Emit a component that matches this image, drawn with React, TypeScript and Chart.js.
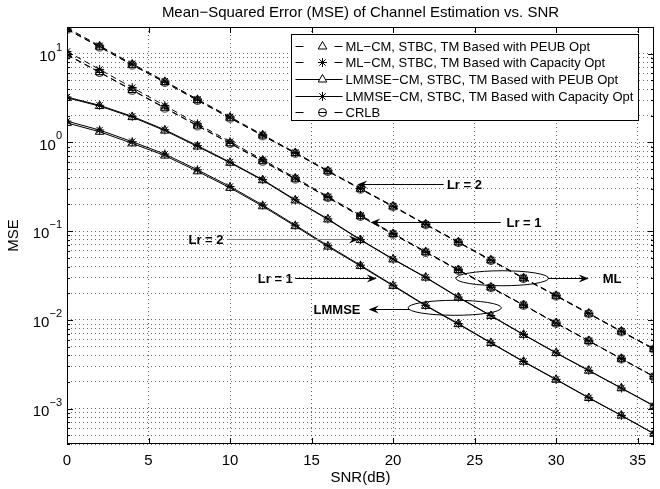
import React, { useEffect, useRef } from 'react';
import { Chart, registerables } from 'chart.js';

Chart.register(...registerables);

// ---------------- data ----------------
const SNR_DB = [0, 2, 4, 6, 8, 10, 12, 14, 16, 18, 20, 22, 24, 26, 28, 30, 32, 34, 36];

// Lr = 2
const ML_PEUB_LR2 = [19.0, 12.0, 7.5, 4.8, 3.0, 1.9, 1.2, 0.76, 0.475, 0.30, 0.19, 0.119, 0.075, 0.047, 0.0295, 0.0187, 0.0118, 0.0074, 0.0047];
const ML_CAP_LR2 = [19.6, 12.3, 7.7, 4.9, 3.07, 1.94, 1.22, 0.77, 0.48, 0.303, 0.192, 0.12, 0.0757, 0.0475, 0.0298, 0.0189, 0.0119, 0.00747, 0.00474];
const CRLB_LR2 = [18.8, 11.9, 7.45, 4.75, 2.98, 1.88, 1.19, 0.755, 0.472, 0.298, 0.189, 0.1185, 0.0747, 0.0468, 0.0294, 0.0186, 0.01175, 0.00737, 0.00468];
const LMMSE_PEUB_LR2 = [3.19, 2.57, 1.93, 1.36, 0.9, 0.59, 0.375, 0.222, 0.1356, 0.0794, 0.0481, 0.03, 0.0179, 0.0111, 0.0068, 0.00423, 0.00268, 0.0017, 0.00107];
const LMMSE_CAP_LR2 = [3.25, 2.62, 1.97, 1.39, 0.92, 0.6, 0.381, 0.226, 0.1375, 0.0803, 0.0486, 0.0303, 0.0181, 0.0112, 0.00686, 0.00426, 0.0027, 0.00171, 0.00108];

// Lr = 1
const ML_PEUB_LR1 = [9.8, 6.2, 3.9, 2.46, 1.55, 0.98, 0.62, 0.39, 0.24, 0.148, 0.093, 0.058, 0.0365, 0.0232, 0.0147, 0.0092, 0.0058, 0.00365, 0.0023];
const ML_CAP_LR1 = [10.6, 6.65, 4.15, 2.6, 1.62, 1.02, 0.64, 0.4, 0.245, 0.151, 0.0945, 0.0588, 0.0369, 0.0234, 0.0148, 0.00925, 0.00582, 0.00366, 0.00231];
const CRLB_LR1 = [9.7, 6.15, 3.87, 2.44, 1.54, 0.975, 0.615, 0.387, 0.239, 0.147, 0.0925, 0.0578, 0.0363, 0.0231, 0.01465, 0.00918, 0.00579, 0.00364, 0.00229];
const LMMSE_PEUB_LR1 = [1.66, 1.32, 0.977, 0.711, 0.473, 0.308, 0.191, 0.114, 0.067, 0.0405, 0.0242, 0.0144, 0.00897, 0.00549, 0.00338, 0.00212, 0.00132, 0.000836, 0.000521];
const LMMSE_CAP_LR1 = [1.74, 1.38, 1.02, 0.74, 0.492, 0.319, 0.197, 0.117, 0.0687, 0.0414, 0.0246, 0.0146, 0.0091, 0.00555, 0.00341, 0.00214, 0.00133, 0.00084, 0.000523];

const X_TICKS = [0, 5, 10, 15, 20, 25, 30, 35];
const Y_DECADES = [10, 1, 0.1, 0.01, 0.001];
const Y_DECADE_EXPONENTS = ['1', '0', '−1', '−2', '−3'];

const TITLE = 'Mean−Squared Error (MSE) of Channel Estimation vs. SNR';
const X_TITLE = 'SNR(dB)';
const Y_TITLE = 'MSE';

const LEGEND_LABELS = [
  'ML−CM, STBC, TM Based with PEUB Opt',
  'ML−CM, STBC, TM Based with Capacity Opt',
  'LMMSE−CM, STBC, TM Based with PEUB Opt',
  'LMMSE−CM, STBC, TM Based with Capacity Opt',
  'CRLB',
];
const LEGEND_MARKERS = ['triangle', 'star', 'triangle', 'star', 'theta'];
const LEGEND_DASHED = [true, true, false, false, true];

// annotations (data coordinates)
const ARROW_LABELS = ['Lr = 2', 'Lr = 1', 'Lr = 2', 'Lr = 1', 'LMMSE', 'ML'];
const ARROW_FROM_SNR = [23.1, 26.6, 9.8, 14.0, 21.0, 29.5];
const ARROW_TO_SNR = [17.8, 18.6, 17.9, 19.0, 18.5, 32.0];
const ARROW_MSE = [0.336, 0.127, 0.081, 0.0295, 0.0132, 0.0295];
const LABEL_SNR = [23.3, 26.95, 9.6, 13.85, 18.0, 32.85];
const ELLIPSE_SNR = [23.78, 26.69];
const ELLIPSE_MSE = [0.0137, 0.0295];
const ELLIPSE_HALF_WIDTH_SNR = [2.86, 2.84];

const FONT = '"Liberation Sans", Arial, Helvetica, sans-serif';

function makeThetaMarker(): HTMLCanvasElement {
  const c = document.createElement('canvas');
  c.width = 11;
  c.height = 11;
  const g = c.getContext('2d')!;
  g.strokeStyle = '#000';
  g.lineWidth = 1;
  g.beginPath();
  g.arc(5.5, 5.5, 4, 0, Math.PI * 2);
  g.stroke();
  g.beginPath();
  g.moveTo(1.5, 5.5);
  g.lineTo(9.5, 5.5);
  g.stroke();
  return c;
}

function drawMarker(ctx: CanvasRenderingContext2D, kind: string, x: number, y: number, theta: HTMLCanvasElement) {
  ctx.save();
  ctx.strokeStyle = '#000';
  ctx.lineWidth = 1;
  ctx.setLineDash([]);
  if (kind === 'triangle') {
    const r = 5;
    ctx.beginPath();
    ctx.moveTo(x, y - r);
    ctx.lineTo(x + r * Math.sin((2 * Math.PI) / 3), y - r * Math.cos((2 * Math.PI) / 3));
    ctx.lineTo(x - r * Math.sin((2 * Math.PI) / 3), y - r * Math.cos((2 * Math.PI) / 3));
    ctx.closePath();
    ctx.fillStyle = '#fff';
    ctx.fill();
    ctx.stroke();
  } else if (kind === 'star') {
    const r = 4.5;
    const d = r * Math.SQRT1_2;
    ctx.beginPath();
    ctx.moveTo(x - r, y); ctx.lineTo(x + r, y);
    ctx.moveTo(x, y - r); ctx.lineTo(x, y + r);
    ctx.moveTo(x - d, y - d); ctx.lineTo(x + d, y + d);
    ctx.moveTo(x - d, y + d); ctx.lineTo(x + d, y - d);
    ctx.stroke();
  } else {
    ctx.drawImage(theta, x - theta.width / 2, y - theta.height / 2);
  }
  ctx.restore();
}

function drawArrowHead(ctx: CanvasRenderingContext2D, tx: number, ty: number, dir: number) {
  const L = 10;
  const W = 4;
  ctx.beginPath();
  ctx.moveTo(tx, ty);
  ctx.lineTo(tx - dir * L, ty - W);
  ctx.lineTo(tx - dir * L * 0.65, ty);
  ctx.lineTo(tx - dir * L, ty + W);
  ctx.closePath();
  ctx.fillStyle = '#000';
  ctx.fill();
}

export default function App() {
  const ref = useRef<HTMLCanvasElement>(null);

  useEffect(() => {
    const canvas = ref.current;
    if (!canvas) return;
    const theta = makeThetaMarker();

    const mk = (label: string, values: number[], marker: string, dashed: boolean) => ({
      label,
      data: SNR_DB.map((x, i) => ({ x, y: values[i] })),
      borderColor: '#000',
      borderWidth: 1,
      borderDash: dashed ? [6, 4] : [],
      pointStyle: marker === 'theta' ? theta : marker,
      pointRadius: marker === 'triangle' ? 5 : 4.5,
      pointBorderColor: '#000',
      pointBackgroundColor: 'rgba(0,0,0,0)',
      pointBorderWidth: 1,
      fill: false,
      tension: 0,
    });

    const datasets = [
      mk(LEGEND_LABELS[0] + ' (Lr=2)', ML_PEUB_LR2, 'triangle', true),
      mk(LEGEND_LABELS[1] + ' (Lr=2)', ML_CAP_LR2, 'star', true),
      mk(LEGEND_LABELS[2] + ' (Lr=2)', LMMSE_PEUB_LR2, 'triangle', false),
      mk(LEGEND_LABELS[3] + ' (Lr=2)', LMMSE_CAP_LR2, 'star', false),
      mk(LEGEND_LABELS[4] + ' (Lr=2)', CRLB_LR2, 'theta', true),
      mk(LEGEND_LABELS[0] + ' (Lr=1)', ML_PEUB_LR1, 'triangle', true),
      mk(LEGEND_LABELS[1] + ' (Lr=1)', ML_CAP_LR1, 'star', true),
      mk(LEGEND_LABELS[2] + ' (Lr=1)', LMMSE_PEUB_LR1, 'triangle', false),
      mk(LEGEND_LABELS[3] + ' (Lr=1)', LMMSE_CAP_LR1, 'star', false),
      mk(LEGEND_LABELS[4] + ' (Lr=1)', CRLB_LR1, 'theta', true),
    ];

    const overlay = {
      id: 'overlay',
      afterDatasetsDraw(chart: any) {
        const ctx: CanvasRenderingContext2D = chart.ctx;
        const xs = chart.scales.x;
        const ys = chart.scales.y;
        ctx.save();
        // ellipses
        ctx.strokeStyle = '#000';
        ctx.lineWidth = 1;
        ELLIPSE_SNR.forEach((s, i) => {
          const cx = xs.getPixelForValue(s);
          const cy = ys.getPixelForValue(ELLIPSE_MSE[i]);
          const rx = xs.getPixelForValue(s + ELLIPSE_HALF_WIDTH_SNR[i]) - cx;
          ctx.beginPath();
          ctx.ellipse(cx, cy, rx, 7.5, 0, 0, Math.PI * 2);
          ctx.stroke();
        });
        // arrows + labels
        ARROW_LABELS.forEach((lab, i) => {
          const x0 = xs.getPixelForValue(ARROW_FROM_SNR[i]);
          const x1 = xs.getPixelForValue(ARROW_TO_SNR[i]);
          const y = Math.round(ys.getPixelForValue(ARROW_MSE[i])) + 0.5;
          const dir = x1 > x0 ? 1 : -1;
          ctx.strokeStyle = i === 2 ? '#808080' : '#000';
          ctx.lineWidth = 1;
          ctx.beginPath();
          ctx.moveTo(x0, y);
          ctx.lineTo(x1 - dir * 6, y);
          ctx.stroke();
          drawArrowHead(ctx, x1, y, dir);
          const lx = xs.getPixelForValue(LABEL_SNR[i]);
          const rightAligned = (i === 2 || i === 3 || i === 4);
          ctx.font = `bold 13px ${FONT}`;
          ctx.fillStyle = '#000';
          ctx.textAlign = rightAligned ? 'right' : 'left';
          ctx.textBaseline = 'middle';
          ctx.fillText(lab, lx, y + 0.5);
        });
        ctx.restore();
      },
      afterDraw(chart: any) {
        const ctx: CanvasRenderingContext2D = chart.ctx;
        const { left, right, top, bottom } = chart.chartArea;
        const xs = chart.scales.x;
        const ys = chart.scales.y;
        ctx.save();
        ctx.strokeStyle = '#000';
        ctx.lineWidth = 1;
        ctx.setLineDash([]);
        // ticks (inward, on all sides)
        ctx.beginPath();
        X_TICKS.forEach((v) => {
          const px = Math.round(xs.getPixelForValue(v)) + 0.5;
          ctx.moveTo(px, bottom); ctx.lineTo(px, bottom - 6);
          ctx.moveTo(px, top); ctx.lineTo(px, top + 6);
        });
        ys.ticks.forEach((t: any) => {
          const py = Math.round(ys.getPixelForValue(t.value)) + 0.5;
          const lg = Math.log10(t.value);
          const major = Math.abs(lg - Math.round(lg)) < 1e-6;
          const len = major ? 6 : 3;
          ctx.moveTo(left, py); ctx.lineTo(left + len, py);
          ctx.moveTo(right, py); ctx.lineTo(right - len, py);
        });
        ctx.stroke();
        // box
        ctx.strokeRect(Math.round(left) + 0.5, Math.round(top) + 0.5, Math.round(right - left) - 1, Math.round(bottom - top) - 1);

        // x tick labels
        ctx.fillStyle = '#000';
        ctx.font = `15px ${FONT}`;
        ctx.textAlign = 'center';
        ctx.textBaseline = 'top';
        X_TICKS.forEach((v) => {
          ctx.fillText(String(v), xs.getPixelForValue(v), bottom + 9);
        });
        // y tick labels 10^n
        Y_DECADES.forEach((v, i) => {
          const py = ys.getPixelForValue(v);
          ctx.font = `15px ${FONT}`;
          const bw = ctx.measureText('10').width;
          ctx.font = `11px ${FONT}`;
          const ew = ctx.measureText(Y_DECADE_EXPONENTS[i]).width;
          const xr = left - 5;
          ctx.textAlign = 'left';
          ctx.textBaseline = 'middle';
          ctx.font = `15px ${FONT}`;
          ctx.fillText('10', xr - ew - bw, py + 3);
          ctx.font = `11px ${FONT}`;
          ctx.fillText(Y_DECADE_EXPONENTS[i], xr - ew, py - 6);
        });
        // axis titles
        ctx.font = `15px ${FONT}`;
        ctx.textAlign = 'center';
        ctx.textBaseline = 'middle';
        ctx.fillText(X_TITLE, (left + right) / 2, 478);
        ctx.save();
        ctx.translate(14, (top + bottom) / 2);
        ctx.rotate(-Math.PI / 2);
        ctx.fillText(Y_TITLE, 0, 0);
        ctx.restore();
        // title
        ctx.font = `15px ${FONT}`;
        ctx.fillText(TITLE, (left + right) / 2, 13);

        // legend
        const bx = right - 16 - 347 + 0.5;
        const by = top + 7 + 0.5;
        const bw = 347;
        const bh = 86;
        ctx.fillStyle = '#fff';
        ctx.fillRect(bx, by, bw, bh);
        ctx.strokeStyle = '#000';
        ctx.strokeRect(bx, by, bw, bh);
        LEGEND_LABELS.forEach((lab, i) => {
          const y = Math.round(by + 11 + i * 16.7) + 0.5;
          const lx0 = bx + 4;
          const lx1 = bx + 51;
          const mx = bx + 31;
          ctx.strokeStyle = '#000';
          ctx.beginPath();
          if (LEGEND_DASHED[i]) {
            ctx.moveTo(lx0, y); ctx.lineTo(lx0 + 8, y);
            ctx.moveTo(lx1 - 8, y); ctx.lineTo(lx1, y);
          } else {
            ctx.moveTo(lx0, y); ctx.lineTo(lx1, y);
          }
          ctx.stroke();
          drawMarker(ctx, LEGEND_MARKERS[i], mx, y, theta);
          ctx.fillStyle = '#000';
          ctx.font = `13px ${FONT}`;
          ctx.textAlign = 'left';
          ctx.textBaseline = 'middle';
          ctx.fillText(lab, bx + 54, y + 0.5);
        });
        ctx.restore();
      },
    };

    const chart = new Chart(canvas, {
      type: 'line',
      data: { datasets },
      options: {
        animation: false,
        responsive: true,
        maintainAspectRatio: false,
        events: [],
        layout: { padding: { left: 67, right: 1, top: 27, bottom: 45 } },
        plugins: {
          legend: { display: false },
          title: { display: false },
          tooltip: { enabled: false },
        },
        scales: {
          x: {
            type: 'linear',
            min: 0,
            max: 36,
            ticks: { display: false, stepSize: 5, includeBounds: false },
            grid: { color: 'rgba(0,0,0,0.6)', lineWidth: 1, drawTicks: false },
            border: { display: false, dash: [1, 3] },
          },
          y: {
            type: 'logarithmic',
            min: 4e-4,
            max: 20,
            ticks: { display: false },
            grid: { color: 'rgba(0,0,0,0.6)', lineWidth: 1, drawTicks: false },
            border: { display: false, dash: [1, 3] },
            afterBuildTicks: (axis: any) => {
              axis.ticks = axis.ticks.filter((t: any) => {
                const e = Math.floor(Math.log10(t.value) + 1e-9);
                const m = t.value / Math.pow(10, e);
                return Math.abs(m - 1.5) > 0.01;
              });
            },
          },
        },
      },
      plugins: [overlay],
    } as any);

    return () => chart.destroy();
  }, []);

  return (
    <div style={{ position: 'fixed', left: 0, top: 0, width: 660, height: 489, background: '#fff' }}>
      <canvas ref={ref} />
    </div>
  );
}
